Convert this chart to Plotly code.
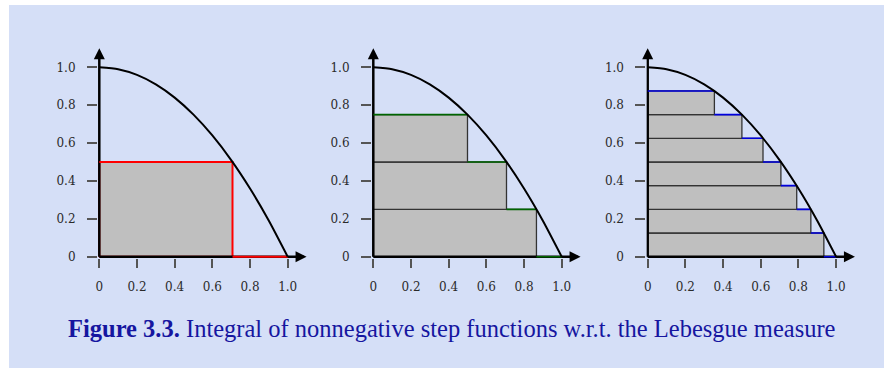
import plotly.graph_objects as go

# ---- data ----
curve_x = [0.0, 0.1, 0.2, 0.3, 0.4, 0.5, 0.6, 0.7, 0.8, 0.9, 1.0]
curve_y = [1.0, 0.99, 0.96, 0.91, 0.84, 0.75, 0.64, 0.51, 0.36, 0.19, 0.0]

levels_1 = [0.5]
widths_1 = [0.707]
levels_2 = [0.25, 0.5, 0.75]
widths_2 = [0.866, 0.707, 0.5]
levels_3 = [0.125, 0.25, 0.375, 0.5, 0.625, 0.75, 0.875]
widths_3 = [0.935, 0.866, 0.791, 0.707, 0.612, 0.5, 0.354]
step_heights = [0.5, 0.25, 0.125]

tick_vals = [0, 0.2, 0.4, 0.6, 0.8, 1.0]
tick_text = ["0", "0.2", "0.4", "0.6", "0.8", "1.0"]

caption = "<b>Figure 3.3.</b> Integral of nonnegative step functions w.r.t. the Lebesgue measure"

panels = [(levels_1, widths_1), (levels_2, widths_2), (levels_3, widths_3)]
step_colors = ["#ff0000", "#006400", "#0000dd"]
outline_colors = ["#ff0000", "#333333", "#333333"]

# ---- layout geometry ----
W, H = 884, 368
zero_px = [99.3, 373.3, 647.7]
sx, sy = 188.4, 189.4
x_lo, x_hi = -0.007, 1.16
y_lo, y_hi = -0.007, 1.14
y0_px = 256.7

fig = go.Figure()
layout_axes = {}
for i, (levels, widths) in enumerate(panels):
    n = i + 1
    xa = "x" if n == 1 else f"x{n}"
    ya = "y" if n == 1 else f"y{n}"
    left = (zero_px[i] + x_lo * sx) / W
    right = (zero_px[i] + x_hi * sx) / W
    bottom = 1 - (y0_px - y_lo * sy) / H
    top = 1 - (y0_px - y_hi * sy) / H
    tickfont = dict(family="DejaVu Serif", size=12, color="#2a2a2a")
    layout_axes[f"xaxis{'' if n == 1 else n}"] = dict(
        domain=[left, right], range=[x_lo, x_hi], anchor=ya,
        showgrid=False, zeroline=False, showline=False, automargin=False,
        tickvals=tick_vals, ticktext=tick_text, ticks="outside",
        ticklen=9, tickwidth=1.5, tickcolor="#555555",
        tickfont=tickfont, ticklabelstandoff=9, fixedrange=True)
    layout_axes[f"yaxis{'' if n == 1 else n}"] = dict(
        domain=[bottom, top], range=[y_lo, y_hi], anchor=xa,
        showgrid=False, zeroline=False, showline=False, automargin=False,
        tickvals=tick_vals, ticktext=tick_text, ticks="outside",
        ticklen=10, tickwidth=1.5, tickcolor="#555555",
        tickfont=tickfont, ticklabelstandoff=9, fixedrange=True)

    h = step_heights[i]
    # rectangles
    for lv, w in zip(levels, widths):
        fig.add_trace(go.Scatter(
            x=[0, w, w, 0, 0], y=[lv - h, lv - h, lv, lv, lv - h],
            mode="lines", fill="toself", fillcolor="#bfbfbf",
            line=dict(color=outline_colors[i], width=1.3 if i else 2),
            xaxis=xa, yaxis=ya, hoverinfo="skip", showlegend=False))
    # axis lines
    fig.add_trace(go.Scatter(x=[0, 1.07], y=[0, 0], mode="lines",
                             line=dict(color="black", width=2.5),
                             xaxis=xa, yaxis=ya, hoverinfo="skip", showlegend=False))
    fig.add_trace(go.Scatter(x=[0, 0], y=[0, 1.07], mode="lines",
                             line=dict(color="black", width=2.5),
                             xaxis=xa, yaxis=ya, hoverinfo="skip", showlegend=False))
    # step function horizontal segments
    sx_pts, sy_pts = [], []
    order = sorted(zip(levels, widths), key=lambda t: -t[0])
    prev = 0.0
    for lv, w in order:
        sx_pts += [prev, w, None]
        sy_pts += [lv, lv, None]
        prev = w
    sx_pts += [prev, 1.0]
    sy_pts += [0, 0]
    fig.add_trace(go.Scatter(x=sx_pts, y=sy_pts, mode="lines",
                             line=dict(color=step_colors[i], width=2 if i == 0 else 1.6),
                             xaxis=xa, yaxis=ya, hoverinfo="skip", showlegend=False))
    # curve
    fig.add_trace(go.Scatter(x=curve_x, y=curve_y, mode="lines",
                             line=dict(color="black", width=2, shape="spline", smoothing=0.6),
                             xaxis=xa, yaxis=ya, hoverinfo="skip", showlegend=False))
    # arrowheads
    fig.add_annotation(x=1.10, y=0, ax=1.04, ay=0, xref=xa, yref=ya, axref=xa, ayref=ya,
                       text="", showarrow=True, arrowhead=2, arrowsize=1, arrowwidth=2.2,
                       arrowcolor="black", standoff=0)
    fig.add_annotation(x=0, y=1.10, ax=0, ay=1.04, xref=xa, yref=ya, axref=xa, ayref=ya,
                       text="", showarrow=True, arrowhead=2, arrowsize=1, arrowwidth=2.2,
                       arrowcolor="black", standoff=0)

fig.add_shape(type="rect", xref="paper", yref="paper", x0=9 / W, x1=1, y0=0, y1=1 - 5 / H,
              fillcolor="#d5dff7", line=dict(width=0), layer="below")

fig.add_annotation(x=452 / W, y=1 - 328 / H, xref="paper", yref="paper", text=caption,
                   showarrow=False, font=dict(family="Liberation Serif", size=24.5, color="#1616a0"),
                   xanchor="center", yanchor="middle")

fig.update_layout(width=W, height=H, margin=dict(l=0, r=0, t=0, b=0, pad=0, autoexpand=False),
                  paper_bgcolor="white", plot_bgcolor="rgba(0,0,0,0)",
                  showlegend=False, **layout_axes)

fig.write_html("out.html")
